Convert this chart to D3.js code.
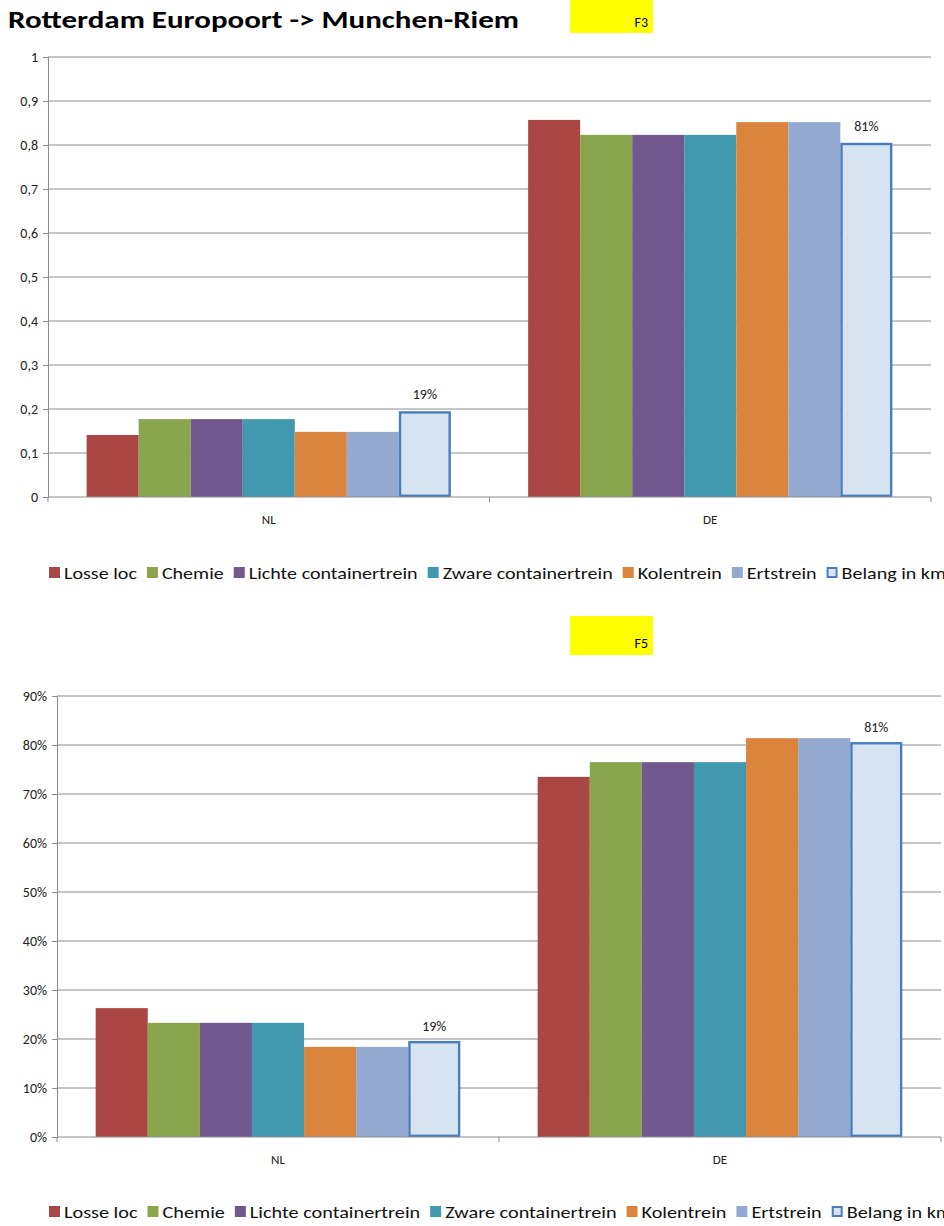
<!DOCTYPE html>
<html><head><meta charset="utf-8">
<script src="https://cdn.jsdelivr.net/npm/d3@7"></script>
<style>body{margin:0;background:#fff}svg{display:block}</style>
</head><body>
<svg id="c" width="944" height="1226"></svg>
<script>
const categories = ["NL", "DE"];
const series = ["Losse loc", "Chemie", "Lichte containertrein", "Zware containertrein", "Kolentrein", "Ertstrein", "Belang in km"];
const seriesColors = ["#aa4643", "#89a54e", "#71588f", "#4198af", "#db843d", "#93a9cf", "#d7e3f1"];
const f3Values = [
  [0.141, 0.177, 0.177, 0.177, 0.148, 0.148, 0.195],
  [0.857, 0.823, 0.823, 0.823, 0.852, 0.852, 0.805]
];
const f5Values = [
  [0.263, 0.233, 0.233, 0.233, 0.184, 0.184, 0.196],
  [0.735, 0.765, 0.765, 0.765, 0.814, 0.814, 0.806]
];
const f3Ticks = [0, 0.1, 0.2, 0.3, 0.4, 0.5, 0.6, 0.7, 0.8, 0.9, 1];
const f3TickLabels = ["0", "0,1", "0,2", "0,3", "0,4", "0,5", "0,6", "0,7", "0,8", "0,9", "1"];
const f5Ticks = [0, 0.1, 0.2, 0.3, 0.4, 0.5, 0.6, 0.7, 0.8, 0.9];
const f5TickLabels = ["0%", "10%", "20%", "30%", "40%", "50%", "60%", "70%", "80%", "90%"];
const f3DataLabels = ["19%", "81%"];
const f5DataLabels = ["19%", "81%"];
const titleText = "Rotterdam Europoort ->  Munchen-Riem";

const FONT = "Carlito, 'Liberation Sans Narrow', 'DejaVu Sans Condensed', 'Open Sans', sans-serif";
const svg = d3.select("#c");

// Title
svg.append("text").attr("x", 8).attr("y", 28)
  .attr("font-family", FONT).attr("font-weight", "bold").attr("font-size", 24)
  .attr("textLength", 511).attr("lengthAdjust", "spacingAndGlyphs")
  .attr("fill", "#000").text(titleText);

function tag(y, h, label, ty) {
  svg.append("rect").attr("x", 570).attr("y", y).attr("width", 83).attr("height", h).attr("fill", "#ffff00");
  svg.append("text").attr("x", 648).attr("y", ty).attr("text-anchor", "end")
    .attr("font-family", FONT).attr("font-size", 14).attr("fill", "#000").text(label);
}
tag(0, 33, "F3", 27);
tag(616, 39, "F5", 648);

function chart(o) {
  const g = svg.append("g");
  const y = d3.scaleLinear().domain([0, o.max]).range([o.y0, o.y1]);
  const x = d3.scaleBand().domain(categories).range([o.x0, o.x1]).padding(0);
  const bw = x.bandwidth();
  const xs = d3.scaleBand().domain(series).range([bw * 0.0875, bw * 0.9125]).padding(0);

  // gridlines
  g.selectAll("line.grid").data(o.ticks.slice(1)).join("line")
    .attr("x1", o.x0).attr("x2", o.x1).attr("y1", d => y(d)).attr("y2", d => y(d))
    .attr("stroke", "#8c8c8c").attr("stroke-width", 1);

  // y axis
  const ya = d3.axisLeft(y).tickValues(o.ticks).tickSize(5).tickFormat((d, i) => o.tickLabels[i]);
  const yg = g.append("g").attr("transform", `translate(${o.x0},0)`).call(ya);
  yg.select(".domain").attr("stroke", "#8c8c8c");
  yg.selectAll(".tick line").attr("stroke", "#8c8c8c");
  yg.selectAll(".tick text").attr("font-family", FONT).attr("font-size", 14).attr("fill", "#222").attr("x", -10);

  // bars
  categories.forEach((c, ci) => {
    series.forEach((s, si) => {
      const v = o.values[ci][si];
      const last = si === series.length - 1;
      g.append("rect")
        .attr("x", x(c) + xs(s) + (last ? 1.2 : 0))
        .attr("y", y(v) + (last ? 1.2 : 0))
        .attr("width", xs.bandwidth() - (last ? 2.4 : 0))
        .attr("height", y(0) - y(v) - (last ? 2.4 : 0))
        .attr("fill", seriesColors[si])
        .attr("stroke", last ? "#4a7ebb" : "none")
        .attr("stroke-width", last ? 2.4 : 0);
      if (last) {
        g.append("text").attr("x", x(c) + xs(s) + xs.bandwidth() / 2).attr("y", y(v) - o.labelOff)
          .attr("text-anchor", "middle").attr("font-family", FONT).attr("font-size", 14).attr("fill", "#222")
          .text(o.dataLabels[ci]);
      }
    });
  });

  // x axis
  g.append("line").attr("x1", o.x0).attr("x2", o.x1).attr("y1", y(0)).attr("y2", y(0)).attr("stroke", "#8c8c8c");
  const bounds = [o.x0, x("DE"), o.x1];
  g.selectAll("line.xt").data(bounds).join("line")
    .attr("x1", d => d).attr("x2", d => d).attr("y1", y(0)).attr("y2", y(0) + 5).attr("stroke", "#8c8c8c");
  g.selectAll("text.xl").data(categories).join("text")
    .attr("x", d => x(d) + bw / 2).attr("y", y(0) + 27).attr("text-anchor", "middle")
    .attr("font-family", FONT).attr("font-size", 13).attr("fill", "#222").text(d => d);

  // legend
  const lg = svg.append("g");
  const fs = 17;
  const items = series.map(s => lg.append("text").attr("font-family", FONT).attr("font-size", fs).attr("fill", "#111").text(s));
  const nat = items.map(t => t.node().getComputedTextLength());
  const sq = 11, gap1 = 4, gap2 = 10;
  const fixed = series.length * (sq + gap1) + (series.length - 1) * gap2;
  const k = (o.legW - fixed) / d3.sum(nat);
  let cx = o.legX;
  series.forEach((s, i) => {
    const last = i === series.length - 1;
    lg.append("rect").attr("x", cx + (last ? 1 : 0)).attr("y", o.legY - 12 + (last ? 1 : 0))
      .attr("width", sq - (last ? 2 : 0)).attr("height", sq - (last ? 2 : 0))
      .attr("fill", seriesColors[i]).attr("stroke", last ? "#4a7ebb" : "none").attr("stroke-width", last ? 2 : 0);
    const w = nat[i] * k;
    items[i].attr("x", cx + sq + gap1).attr("y", o.legY).attr("textLength", w).attr("lengthAdjust", "spacingAndGlyphs");
    cx += sq + gap1 + w + gap2;
  });
}

chart({ max: 1, y0: 497, y1: 57, x0: 48, x1: 931, ticks: f3Ticks, tickLabels: f3TickLabels,
  values: f3Values, dataLabels: f3DataLabels, labelOff: 12, legX: 49, legY: 579, legW: 897 });
chart({ max: 0.9, y0: 1137, y1: 696, x0: 57, x1: 941, ticks: f5Ticks, tickLabels: f5TickLabels,
  values: f5Values, dataLabels: f5DataLabels, labelOff: 10, legX: 49, legY: 1218, legW: 903 });
</script>
</body></html>
